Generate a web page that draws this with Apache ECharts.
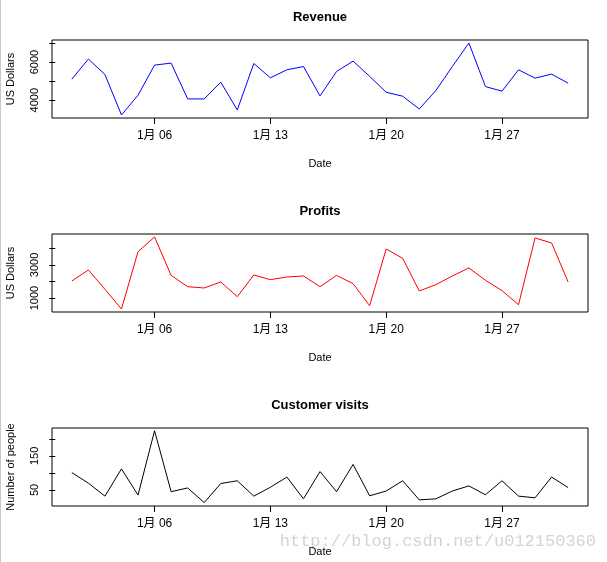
<!DOCTYPE html>
<html>
<head>
<meta charset="utf-8">
<script src="https://cdn.jsdelivr.net/npm/echarts@6/dist/echarts.min.js"></script>
<style>
html,body{margin:0;padding:0;background:#fff;}
#chart{width:607px;height:562px;}
</style>
</head>
<body>
<div id="chart"></div>
<script>
// Days of January (x values)
const days = [1,2,3,4,5,6,7,8,9,10,11,12,13,14,15,16,17,18,19,20,21,22,23,24,25,26,27,28,29,30,31];
const xTickDays = [6, 13, 20, 27];
const xTickLabels = ['1月 06', '1月 13', '1月 20', '1月 27'];

const revenue = [5105, 6158, 5347, 3226, 4263, 5842, 5947, 4068, 4068, 4947, 3489, 5926, 5174, 5595, 5768, 4226, 5505, 6053, 5250, 4421, 4210, 3542, 4505, 5768, 7000, 4716, 4474, 5595, 5158, 5368, 4895];
const profits = [2033, 2697, 1530, 342, 3802, 4690, 2371, 1688, 1610, 1972, 1085, 2395, 2111, 2274, 2335, 1688, 2371, 1870, 541, 3965, 3398, 1429, 1809, 2335, 2818, 2080, 1450, 601, 4630, 4328, 1972];
const visits = [101, 70, 32, 112, 35, 224, 45, 56, 13, 69, 77, 32, 58, 88, 24, 104, 45, 125, 33, 47, 77, 21, 24, 47, 62, 36, 77, 32, 27, 88, 57];

const titles = ['Revenue', 'Profits', 'Customer visits'];
const yNames = ['US Dollars', 'US Dollars', 'Number of people'];
const yTicks = [[4000, 5000, 6000, 7000], [1000, 2000, 3000, 4000], [50, 100, 150, 200]];
const yTickLabels = [[4000, 6000], [1000, 3000], [50, 150]];
const yRanges = [[3068, 7158], [161, 4868], [3, 232]];
const colors = ['#0000ff', '#ff0000', '#000000'];
const seriesData = [revenue, profits, visits];

const FONT = '"Liberation Sans", Arial, "Noto Sans CJK SC", sans-serif';
const panelTops = [40, 234, 428];
const GL = 52, GW = 536, GH = 78;

const chart = echarts.init(document.getElementById('chart'), null, {renderer: 'canvas'});

const grids = [], xAxes = [], yAxes = [], series = [], graphics = [];
panelTops.forEach((top, i) => {
  grids.push({left: GL, top: top, width: GW, height: GH, show: true,
    borderColor: '#000', borderWidth: 1, backgroundColor: 'transparent',
    containLabel: false, outerBoundsMode: 'none'});
  xAxes.push({
    type: 'value', gridIndex: i, min: days[0] - 1.2, max: days[days.length - 1] + 1.2,
    name: 'Date', nameLocation: 'middle', nameGap: 40,
    nameTextStyle: {fontFamily: FONT, fontSize: 11, color: '#000'},
    axisLine: {show: false},
    axisTick: {show: true, inside: false, length: 6, customValues: xTickDays, lineStyle: {color: '#000', width: 1}},
    axisLabel: {show: true, margin: 12, customValues: xTickDays, fontFamily: FONT, fontSize: 12, color: '#000',
      formatter: v => xTickLabels[xTickDays.indexOf(Math.round(v))] || ''},
    splitLine: {show: false}
  });
  yAxes.push({
    type: 'value', gridIndex: i, min: yRanges[i][0], max: yRanges[i][1],
    name: yNames[i], nameLocation: 'middle', nameGap: 36,
    nameTextStyle: {fontFamily: FONT, fontSize: 11, color: '#000'},
    axisLine: {show: false},
    axisTick: {show: true, inside: false, length: 6, customValues: yTicks[i], lineStyle: {color: '#000', width: 1}},
    axisLabel: {show: true, rotate: 90, margin: 12, customValues: yTickLabels[i], fontFamily: FONT, fontSize: 11, color: '#000',
      formatter: v => String(Math.round(v))},
    splitLine: {show: false}
  });
  series.push({
    type: 'line', xAxisIndex: i, yAxisIndex: i,
    data: days.map((d, k) => [d, seriesData[i][k]]),
    showSymbol: false, symbol: 'none',
    lineStyle: {color: colors[i], width: 1},
    itemStyle: {color: colors[i]},
    animation: false
  });
  graphics.push({
    type: 'text', x: GL + GW / 2, y: top - 23,
    style: {text: titles[i], fontFamily: FONT, fontSize: 13, fontWeight: 'bold', fill: '#000',
      textAlign: 'center', textVerticalAlign: 'middle'}
  });
});

graphics.push({type: 'rect', shape: {x: 0, y: 0, width: 1, height: 562}, style: {fill: '#c8c8c8'}});
graphics.push({
  type: 'text', x: 596, y: 541,
  style: {text: 'http://blog.csdn.net/u012150360', fontFamily: '"Liberation Mono", "DejaVu Sans Mono", monospace',
    fontSize: 17, fill: '#d4d4d4', textAlign: 'right', textVerticalAlign: 'middle'}
});

chart.setOption({
  animation: false,
  backgroundColor: '#fff',
  grid: grids,
  xAxis: xAxes,
  yAxis: yAxes,
  series: series,
  graphic: graphics
});
</script>
</body>
</html>
